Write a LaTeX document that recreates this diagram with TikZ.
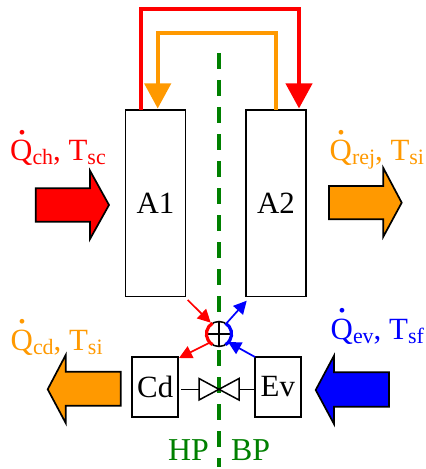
\documentclass[tikz,border=0pt]{standalone}
\usepackage{fontspec}
\setmainfont{Liberation Serif}
\usetikzlibrary{arrows.meta,calc}
\definecolor{myorange}{RGB}{255,153,0}
\definecolor{mygreen}{RGB}{0,128,0}
\newcommand{\Qdot}{\leavevmode\rlap{\hbox to 0.78em{\hss\raisebox{0.87em}{\fontsize{40}{40}\selectfont .}\hss}}Q}
\newcommand{\lowr}[1]{\raisebox{-4bp}{\fontsize{22}{22}\selectfont #1}}
\tikzset{
  box/.style={draw=black,line width=1.5bp,fill=white,inner sep=0pt,font=\fontsize{31}{31}\selectfont},
  lab/.style={anchor=base west,inner sep=0pt,font=\fontsize{31}{31}\selectfont},
  bigarrow/.style={draw=black,line width=1.7bp,line join=miter,miter limit=10},
  pipe/.style={line width=4bp,line join=miter},
  thin pipe/.style={line width=1.7bp,-{Triangle[length=13bp,width=13bp]}},
  hd/.style={-{Triangle[length=25bp,width=26bp]}},
  plain/.style={draw=black,line width=1.5bp},
}
\begin{document}
\begin{tikzpicture}[x=1bp,y=-1bp]
\useasboundingbox (0,0) rectangle (425,469);
% nodes
\node[box,minimum width=60bp,minimum height=186.5bp] (A1) at (155.4,203.3) {A1};
\node[box,minimum width=60bp,minimum height=186.5bp] (A2) at (276,203.3) {A2};
\node[box,minimum width=46bp,minimum height=60bp] (Cd) at (155.2,387) {Cd};
\node[box,minimum width=46bp,minimum height=60bp] (Ev) at (277.8,387) {Ev};
% green axis
\coordinate (gtop) at (219,53);
\coordinate (gbot) at (219,467);
\draw[mygreen,line width=4bp,dash pattern=on 16bp off 11bp] (gtop) -- (gbot);
% top pipes
\coordinate (r1) at (141,110);
\coordinate (r2) at (299,108.5);
\coordinate (o1) at (275.7,110);
\coordinate (o2) at (157.7,108.5);
\draw[pipe,red,hd] (r1) -- ++(0,-101) -| (r2);
\draw[pipe,myorange,hd] (o1) -- ++(0,-77) -| (o2);
% junction
\coordinate (J) at (219,334);
\node[circle,minimum size=25bp,inner sep=0pt] (Jn) at (J) {};
\fill[white] (J) circle (12.5bp);
\draw[plain] (J) circle (12.5bp);
\draw[plain] (Jn.north) -- (Jn.south) (Jn.west) -- (Jn.east);
\draw[red,line width=3.2bp] ($(J)+(-6.5,-10.8)$) arc[start angle=239,end angle=121,x radius=12.5bp,y radius=-12.5bp];
\draw[blue,line width=3.2bp] ($(J)+(6.5,-10.8)$) arc[start angle=301,end angle=419,x radius=12.5bp,y radius=-12.5bp];
% small arrows
\coordinate (a1o) at (187.7,300);
\coordinate (ji1) at (210.7,322.7);
\coordinate (ji2) at (227,322.7);
\coordinate (a2i) at (246.7,300.7);
\coordinate (ji3) at (209,343);
\coordinate (cdi) at (179,358);
\coordinate (evo) at (255,357);
\coordinate (ji4) at (228,342);
\draw[thin pipe,red] (a1o) -- (ji1);
\draw[thin pipe,blue] (ji2) -- (a2i);
\draw[thin pipe,red] (ji3) -- (cdi);
\draw[thin pipe,blue] (evo) -- (ji4);
% valve
\coordinate (V) at (219,389.3);
\coordinate (vl) at (199,389.3);
\coordinate (vr) at (239,389.3);
\coordinate (cdr) at (181,389.3);
\draw[plain,fill=white,line join=miter] (V) -- (199,378.5) -- (199,400) -- cycle;
\draw[plain,fill=white,line join=miter] (V) -- (239,378.5) -- (239,400) -- cycle;
\draw[plain] (cdr) -- (vl);
\draw[plain] (vr) -- (Ev.west |- vr);
% big arrows
\draw[bigarrow,fill=red] (35.7,188.3) -- (90,188.3) -- (90,170.7) -- (109,205) -- (90,239) -- (90,221.7) -- (35.7,221.7) -- cycle;
\draw[bigarrow,fill=myorange] (329,186) -- (383.3,186) -- (383.3,168) -- (401.7,202.7) -- (383.3,236.7) -- (383.3,219.3) -- (329,219.3) -- cycle;
\draw[bigarrow,fill=myorange] (120.7,371.7) -- (65.7,371.7) -- (65.7,355) -- (47.7,389.3) -- (65.7,423) -- (65.7,405.7) -- (120.7,405.7) -- cycle;
\draw[bigarrow,fill=blue] (389,372.3) -- (334,372.3) -- (334,355.7) -- (315.7,390) -- (334,424) -- (334,406.7) -- (389,406.7) -- cycle;
% labels
\node[lab,text=red] (l1) at (10,161) {\Qdot\lowr{ch}, T\lowr{sc}};
\node[lab,text=myorange] (l2) at (329.5,161) {\Qdot\lowr{rej}, T\lowr{si}};
\node[lab,text=myorange] (l3) at (10.5,350) {\Qdot\lowr{cd}, T\lowr{si}};
\node[lab,text=blue] (l4) at (330.5,339.5) {\Qdot\lowr{ev}, T\lowr{sf}};
\node[lab,text=mygreen,font=\fontsize{32}{32}\selectfont] (hp) at (168,460.5) {HP};
\node[lab,text=mygreen,font=\fontsize{32}{32}\selectfont] (bp) at (231,460.5) {BP};
\end{tikzpicture}
\end{document}
